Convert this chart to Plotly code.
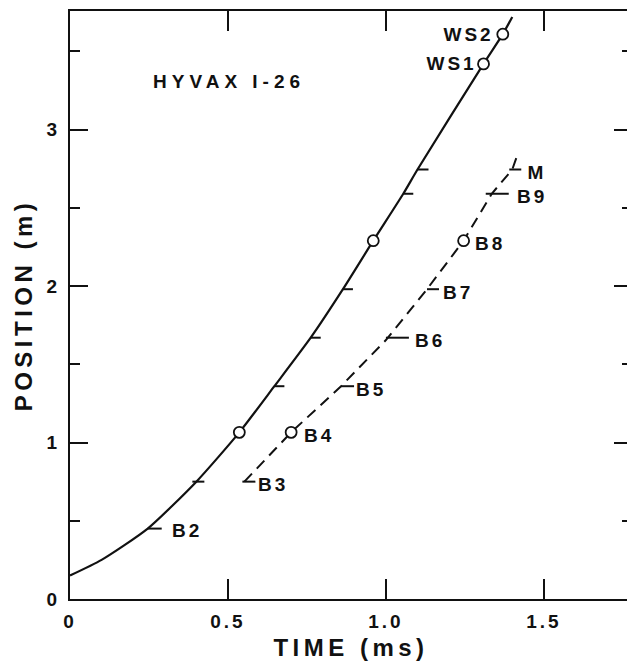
import plotly.graph_objects as go

# ---------------- data ----------------
# leading (solid) front: time (ms) vs position (m)
front_t = [0.00, 0.10, 0.246, 0.40, 0.536, 0.647, 0.762, 0.864, 0.96, 1.055, 1.10, 1.309, 1.37, 1.40]
front_p = [0.15, 0.25, 0.45, 0.75, 1.065, 1.36, 1.67, 1.98, 2.29, 2.59, 2.745, 3.42, 3.61, 3.72]

# gauges
gauges = ["B2", "B3", "B4", "B5", "B6", "B7", "B8", "B9", "M"]
gauge_pos = [0.45, 0.75, 1.065, 1.36, 1.67, 1.98, 2.29, 2.59, 2.745]
front_arrival = [0.246, 0.40, 0.536, 0.647, 0.762, 0.864, 0.96, 1.055, 1.10]
second_arrival = [None, 0.552, 0.70, 0.858, 1.00, 1.13, 1.246, 1.335, 1.40]
circle_gauges = ["B4", "B8"]

# trailing (dashed) curve
trail_t = [0.552, 0.70, 0.858, 1.00, 1.13, 1.246, 1.335, 1.40, 1.413]
trail_p = [0.75, 1.065, 1.36, 1.655, 1.98, 2.29, 2.59, 2.745, 2.82]

# window stations
ws_names = ["WS1", "WS2"]
ws_t = [1.309, 1.37]
ws_p = [3.42, 3.61]

title_text = "HYVAX I-26"
x_ticks = [0, 0.5, 1.0, 1.5]
x_ticklabels = ["0", "0.5", "1.0", "1.5"]
y_ticks = [0, 1, 2, 3]
y_ticklabels = ["0", "1", "2", "3"]

# ---------------- styles ----------------
FONT = "Liberation Sans, Arial, sans-serif"
INK = "#111111"
solid_tick_px = {"B2": (0, 14), "B3": (-4, 8), "B5": (0, 10), "B6": (0, 10),
                 "B7": (0, 10), "B9": (0, 10), "M": (0, 11)}
trail_tick_px = {"B3": (-2, 11), "B5": (0, 13), "B6": (0, 23), "B7": (0, 12),
                 "B9": (-6, 17), "M": (-3, 9)}
trail_label_px = {"B3": 15, "B4": 14, "B5": 16, "B6": 30, "B7": 17,
                  "B8": 12, "B9": 26, "M": 15}

fig = go.Figure()

fig.add_trace(go.Scatter(x=front_t, y=front_p, mode="lines",
                         line=dict(color=INK, width=2.2, shape="spline", smoothing=0.6),
                         hoverinfo="skip", showlegend=False))
fig.add_trace(go.Scatter(x=trail_t, y=trail_p, mode="lines",
                         line=dict(color=INK, width=2, dash="11px,7px"),
                         hoverinfo="skip", showlegend=False))

shapes = []
for g, p, t1, t2 in zip(gauges, gauge_pos, front_arrival, second_arrival):
    if g in solid_tick_px:
        a, b = solid_tick_px[g]
        shapes.append(dict(type="line", xref="x", yref="y", xsizemode="pixel", xanchor=t1,
                           x0=a, x1=b, y0=p, y1=p, line=dict(color=INK, width=2)))
    if t2 is not None and g in trail_tick_px:
        a, b = trail_tick_px[g]
        shapes.append(dict(type="line", xref="x", yref="y", xsizemode="pixel", xanchor=t2,
                           x0=a, x1=b, y0=p, y1=p, line=dict(color=INK, width=2)))

# circles
cx, cy = [], []
for g, p, t1, t2 in zip(gauges, gauge_pos, front_arrival, second_arrival):
    if g in circle_gauges:
        cx += [t1, t2]
        cy += [p, p]
cx += ws_t
cy += ws_p
fig.add_trace(go.Scatter(x=cx, y=cy, mode="markers",
                         marker=dict(symbol="circle", size=11, color="white",
                                     line=dict(color=INK, width=1.8)),
                         hoverinfo="skip", showlegend=False))

annotations = []
lab_font = dict(family=FONT, size=19, color=INK, weight="bold")
# B2 label on the leading front
annotations.append(dict(x=front_arrival[0], y=gauge_pos[0], xref="x", yref="y", text=gauges[0],
                        showarrow=False, xanchor="left", yanchor="middle", xshift=25, yshift=-2,
                        font=lab_font))
for g, p, t2 in zip(gauges, gauge_pos, second_arrival):
    if t2 is None:
        continue
    annotations.append(dict(x=t2, y=p, xref="x", yref="y", text=g, showarrow=False,
                            xanchor="left", yanchor="middle", xshift=trail_label_px[g], yshift=-3,
                            font=lab_font))
for n, t, p, s in zip(ws_names, ws_t, ws_p, [-9, -12]):
    annotations.append(dict(x=t, y=p, xref="x", yref="y", text=n, showarrow=False,
                            xanchor="right", yanchor="middle", xshift=s, yshift=0,
                            font=lab_font))
annotations.append(dict(x=0.335, y=3.31, xref="x", yref="y", text=title_text, showarrow=False,
                        xanchor="left", yanchor="middle",
                        font=dict(family=FONT, size=19, color=INK, weight="bold")))

fig.update_layout(
    width=627, height=656,
    margin=dict(l=62, r=1, t=1, b=65),
    paper_bgcolor="white", plot_bgcolor="white",
    shapes=shapes, annotations=annotations,
    font=dict(family=FONT, color=INK),
)
fig.update_xaxes(range=[0, 1.779], tickvals=x_ticks, ticktext=x_ticklabels,
                 ticks="inside", ticklen=20, tickwidth=2, tickcolor=INK,
                 showline=True, linecolor=INK, linewidth=2.2, mirror="ticks",
                 showgrid=False, zeroline=False, ticklabelstandoff=4,
                 tickfont=dict(family=FONT, size=19, color=INK, weight="bold"),
                 title=dict(text="TIME (ms)", standoff=8,
                            font=dict(family=FONT, size=24, color=INK, weight="bold")))
fig.update_yaxes(range=[0, 3.758], tickvals=y_ticks, ticktext=y_ticklabels,
                 ticks="inside", ticklen=18, tickwidth=2, tickcolor=INK,
                 minor=dict(dtick=0.5, ticks="inside", ticklen=10, tickwidth=2, tickcolor=INK),
                 showline=True, linecolor=INK, linewidth=2.2, mirror="ticks",
                 showgrid=False, zeroline=False, ticklabelstandoff=4,
                 tickfont=dict(family=FONT, size=19, color=INK, weight="bold"),
                 title=dict(text="POSITION (m)", standoff=10,
                            font=dict(family=FONT, size=24, color=INK, weight="bold")))

post = ("document.querySelectorAll('.annotation-text, .xtick text, .ytick text')"
        ".forEach(function(e){e.style.letterSpacing='3px';"
        "if(e.textContent.indexOf('HYVAX')===0){e.style.letterSpacing='5px';}});"
        "document.querySelectorAll('.xtitle, .ytitle')"
        ".forEach(function(e){e.style.letterSpacing='4.5px';});")
fig.write_html("out.html", post_script=post)
